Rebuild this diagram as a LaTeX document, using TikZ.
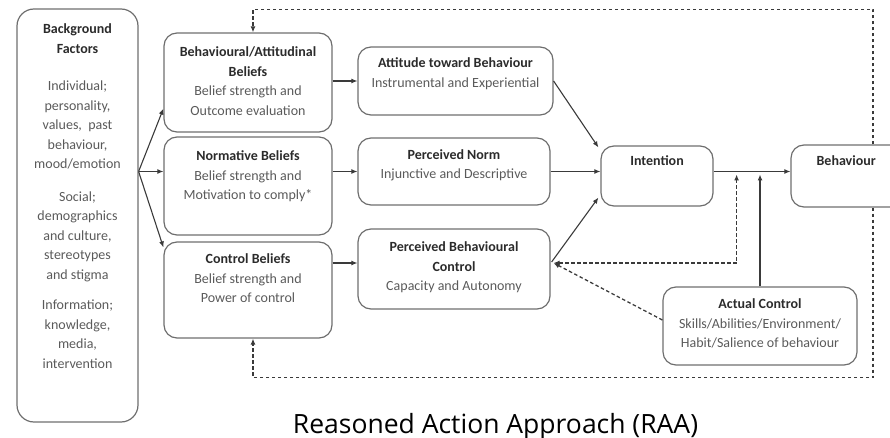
\documentclass[tikz,border=0pt]{standalone}
\usepackage{fontspec}
\setmainfont{Carlito}
\newfontfamily\titlefont{Open Sans}
\usetikzlibrary{arrows.meta,calc}
\definecolor{edge}{HTML}{6E6E6E}
\definecolor{ink}{HTML}{3A3A3A}
\definecolor{headc}{HTML}{2B2B2B}
\definecolor{bodyc}{HTML}{5A5A5A}
\newcommand\boxhead[1]{\textcolor{headc}{\bfseries #1}}
\begin{document}
\begin{tikzpicture}[x=1pt,y=-1pt,
  box/.style={draw=edge,line width=1.2pt,rounded corners=13pt,inner sep=0pt},
  txt/.style={anchor=north,inner sep=0pt,align=center,
              font=\fontsize{14}{19.5}\selectfont,text=bodyc},
  arr/.style={draw=ink,line width=1.1pt,-{Latex[length=6pt,width=5pt]}},
  fb/.style={arr,line width=1.3pt,dash pattern=on 3.5pt off 2.5pt},
]
\useasboundingbox (0,0) rectangle (890,438);

% ---------- boxes ----------
\node[box,rounded corners=17pt,minimum width=121pt,minimum height=413pt] (bg) at (77.5,215.5) {};
\node[box,minimum width=168pt,minimum height=99pt] (bb) at (248,82.5) {};
\node[box,minimum width=168pt,minimum height=98pt] (nb) at (248,186) {};
\node[box,minimum width=168pt,minimum height=96pt] (cb) at (248,290) {};
\node[box,minimum width=195pt,minimum height=68pt] (at) at (455.5,81) {};
\node[box,minimum width=192pt,minimum height=67pt] (pn) at (454,171.5) {};
\node[box,minimum width=192pt,minimum height=80pt] (pbc) at (454,269) {};
\node[box,minimum width=112pt,minimum height=60pt] (int) at (657,176) {};
\node[box,minimum width=164pt,minimum height=62pt] (beh) at (873,176) {};
\node[box,minimum width=194pt,minimum height=78pt] (ac) at (760,326) {};

% ---------- box texts ----------
\node[txt] (bgT) at ($(bg.north)+(0,15.5)$)
  {\boxhead{Background}\\\boxhead{Factors}\\[18pt]
   Individual;\\personality,\\values,~ past\\behaviour,\\mood/emotion\\[13pt]
   Social;\\demographics\\and culture,\\stereotypes\\and stigma\\[11pt]
   Information;\\knowledge,\\media,\\intervention};
\node[txt] (bbT) at ($(bb.north)+(0,14.5)$)
  {\boxhead{Behavioural/Attitudinal}\\\boxhead{Beliefs}\\Belief strength and\\Outcome evaluation};
\node[txt] (nbT) at ($(nb.north)+(0,14.5)$)
  {\boxhead{Normative Beliefs}\\Belief strength and\\Motivation to comply*};
\node[txt] (cbT) at ($(cb.north)+(0,12.5)$)
  {\boxhead{Control Beliefs}\\Belief strength and\\Power of control};
\node[txt] (atT) at ($(at.north)+(0,11.5)$)
  {\boxhead{Attitude toward Behaviour}\\Instrumental and Experiential};
\node[txt] (pnT) at ($(pn.north)+(0,12)$)
  {\boxhead{Perceived Norm}\\Injunctive and Descriptive};
\node[txt] (pbcT) at ($(pbc.north)+(0,13.5)$)
  {\boxhead{Perceived Behavioural}\\\boxhead{Control}\\Capacity and Autonomy};
\node[txt] (intT) at ($(int.north)+(0,10.5)$) {\boxhead{Intention}};
\node[txt,anchor=north west] (behT) at ($(beh.north west)+(26,11.5)$) {\boxhead{Behaviour}};
\node[txt] (acT) at ($(ac.north)+(0,12.5)$)
  {\boxhead{Actual Control}\\Skills/Abilities/Environment/\\Habit/Salience of behaviour};

% ---------- title ----------
\node[anchor=base,inner sep=0pt,font=\titlefont\fontsize{26.5}{30}\selectfont,text=black]
  (title) at (495.5,433) {Reasoned Action Approach (RAA)};

% ---------- connectors ----------
\coordinate (fan) at (bg.east |- pn);
\draw[arr] (fan) -- ($(bb.south west)+(0,-24)$);
\draw[arr] (fan) -- (nb.west |- fan);
\draw[arr] (fan) -- ($(cb.north west)+(0,6)$);

\draw[arr] (bb.east |- at) -- (at.west);
\draw[arr] (nb.east |- pn) -- (pn.west);
\coordinate (pbcIn) at ($(pbc.west)+(0,-6)$);
\draw[arr] (cb.east |- pbcIn) -- (pbcIn);

\draw[arr] (at.east) -- ($(int.north west)+(-2,2)$);
\draw[arr] (pn.east) -- (int.west |- pn.east);
\draw[arr] ($(pbc.east)+(1,-7)$) -- ($(int.south west)+(-2,-9)$);

\draw[arr] (int.east |- pn) -- (beh.west |- pn);
\coordinate (jA) at ($(int.east |- pn)+(23,3)$);
\coordinate (pbcOut) at ($(pbc.east)+(3,-6)$);

% actual control feedback into perceived behavioural control and the intention link
\draw[fb,{Latex[length=6pt,width=5pt]}-{Latex[length=6pt,width=5pt]}] (pbcOut) -| (jA);
\draw[fb] ($(ac.west)+(0,-6)$) -- (pbcOut);
\draw[arr] (ac.north) -- (ac.north |- jA);

% behaviour feedback loops
\draw[fb] (beh.north) |- ($(bb.north)+(5,-23)$) -- ($(bb.north)+(5,0)$);
\draw[fb] (beh.south) |- ($(cb.south)+(5,39)$) -- ($(cb.south)+(5,0)$);
\end{tikzpicture}
\end{document}
